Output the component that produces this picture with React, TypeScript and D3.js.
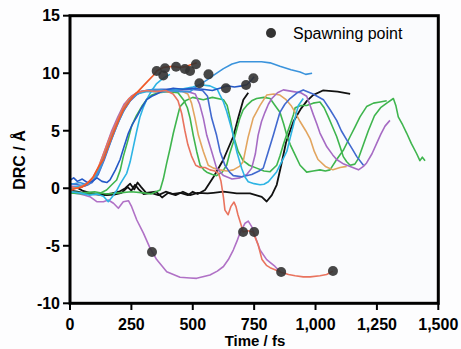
import React from 'react';
import * as d3 from 'd3';

const W = 461;
const H = 349;

const xTicks = [0, 250, 500, 750, 1000, 1250, 1500];
const yTicks = [-10, -5, 0, 5, 10, 15];

const orangeRed: [number, number][] = [[0,-0.2],[25,0.0],[50,0.1],[70,0.4],[95,1.0],[115,1.8],[136,2.5],[155,3.6],[177,4.8],[200,6.0],[217,6.8],[240,7.5],[258,8.0],[285,8.6],[312,9.2],[339,9.8],[353,10.2],[380,10.5],[421,10.6],[450,10.5],[475,10.6],[500,10.8],[516,10.9]];
const salmon: [number, number][] = [[0,0.1],[30,0.0],[60,0.3],[90,0.8],[115,1.8],[140,3.2],[165,4.6],[190,5.8],[215,7.0],[240,7.8],[270,8.3],[310,8.5],[350,8.4],[390,8.5],[420,8.2],[440,7.6],[455,6.5],[468,5.0],[480,3.8],[495,2.8],[512,2.0],[530,1.8],[550,1.8],[570,1.6],[590,1.5],[605,1.3],[615,0.6],[625,-0.8],[631,-1.9],[644,-2.3],[655,-1.6],[668,-1.2],[676,-1.6],[684,-2.3],[697,-3.2],[705,-3.8],[725,-3.7],[745,-3.8],[766,-4.9],[782,-6.2],[800,-6.7],[815,-6.9],[860,-7.3],[890,-7.5],[917,-7.6],[950,-7.7],[978,-7.7],[1018,-7.6],[1045,-7.5],[1071,-7.2]];
const purple: [number, number][] = [[0,0.2],[40,0.1],[70,0.3],[95,0.9],[120,2.0],[145,3.5],[170,5.0],[195,6.2],[220,7.3],[250,8.0],[280,8.4],[320,8.5],[380,8.4],[430,8.5],[480,8.4],[510,8.2],[528,7.3],[543,6.1],[557,4.6],[577,3.2],[597,1.75],[625,1.1],[660,0.8],[692,0.9],[720,1.2],[740,1.75],[755,3.0],[766,4.6],[780,5.8],[794,6.6],[808,7.3],[822,7.8],[845,8.3],[869,8.55],[910,8.4],[940,8.3],[964,8.0],[978,7.2],[991,6.4],[1005,5.6],[1018,4.8],[1046,3.6],[1070,2.9],[1086,2.5],[1115,2.1],[1141,1.9],[1175,1.6],[1195,1.9],[1208,2.2],[1230,3.0],[1249,3.9],[1266,4.7],[1283,5.4],[1303,5.9]];
const tan: [number, number][] = [[0,0.0],[40,0.1],[75,0.3],[100,1.0],[125,2.0],[150,3.5],[175,4.9],[200,6.0],[228,7.2],[258,8.0],[290,8.4],[340,8.5],[400,8.4],[450,8.5],[480,8.2],[495,7.4],[509,6.1],[523,4.6],[543,3.2],[563,2.0],[584,1.75],[610,1.6],[640,1.5],[665,1.6],[690,1.9],[705,2.3],[725,4.4],[746,6.1],[774,7.2],[801,8.1],[830,8.2],[855,8.1],[880,7.7],[900,7.2],[917,6.6],[937,5.8],[960,5.0],[978,4.3],[995,3.2],[1010,2.5],[1040,1.9],[1071,1.6],[1100,1.8],[1127,1.9]];
const blue: [number, number][] = [[0,0.4],[30,0.3],[60,0.2],[90,0.5],[115,1.2],[140,2.5],[165,4.0],[190,5.4],[215,6.6],[245,7.6],[275,8.2],[310,8.5],[370,8.6],[430,8.6],[490,8.6],[540,8.5],[560,8.0],[577,6.1],[597,4.6],[611,3.2],[631,2.0],[650,1.4],[665,1.1],[700,1.0],[740,1.2],[770,1.5],[787,1.75],[805,3.0],[828,4.6],[855,6.6],[875,7.3],[896,7.8],[925,8.3],[950,8.55],[990,8.2],[1032,7.7],[1060,6.8],[1086,5.9],[1105,5.0],[1127,4.2],[1150,3.4],[1168,2.75],[1195,2.0]];
const darkBlue: [number, number][] = [[0,0.7],[15,0.9],[30,0.6],[50,0.8],[70,0.5],[90,0.6],[110,0.9],[130,0.6],[150,0.5],[163,0.72],[185,1.6],[204,2.5],[220,3.6],[238,4.8],[255,5.6],[272,6.2],[292,7.0],[312,7.7],[333,8.0],[353,8.2],[380,8.5],[420,8.7],[460,8.6],[500,8.7],[540,8.6],[580,8.5],[610,8.7],[640,8.9],[670,8.8],[700,8.9],[720,9.0],[735,9.3],[750,9.7]];
const lightBlue: [number, number][] = [[0,0.3],[40,0.5],[70,0.3],[100,0.8],[125,1.8],[150,3.2],[175,4.6],[200,5.9],[225,7.0],[255,7.9],[290,8.4],[340,8.6],[400,8.5],[450,8.4],[489,8.4],[520,8.9],[557,9.4],[590,9.9],[625,10.4],[660,10.8],[692,11.0],[740,11.0],[780,11.0],[815,10.9],[855,10.6],[900,10.3],[937,10.1],[960,9.9],[986,10.0]];
const cyanA: [number, number][] = [[0,-0.3],[40,-0.4],[80,-0.6],[110,-0.5],[136,-0.7],[156,-1.17],[177,-0.6],[190,-0.2],[205,0.4],[231,1.3],[245,2.3],[258,3.6],[272,5.0],[285,6.2],[298,7.0],[312,7.7],[333,8.5],[353,9.1],[370,9.4],[390,9.7],[407,9.9]];
const cyanB: [number, number][] = [[0,0.0],[40,0.2],[80,0.5],[110,1.3],[135,2.6],[160,4.1],[185,5.5],[210,6.7],[240,7.7],[270,8.2],[310,8.4],[380,8.4],[450,8.6],[500,8.8],[530,9.0],[570,8.9],[600,8.6],[611,8.1],[625,7.5],[638,6.7],[658,5.2],[679,3.2],[699,1.74],[712,1.0],[726,0.57],[750,0.4],[774,0.3],[790,0.35],[808,0.57],[825,1.0],[842,1.44],[860,2.2],[883,3.2],[897,4.4],[910,5.5],[920,6.4],[930,7.2],[950,7.8]];
const greenA: [number, number][] = [[0,-0.4],[30,-0.45],[60,-0.5],[100,-0.5],[125,-0.4],[149,-0.15],[170,0.3],[190,0.72],[205,1.6],[217,2.75],[235,4.1],[251,5.4],[270,6.3],[292,7.1],[312,7.7],[333,8.1],[360,8.3],[400,8.4],[440,8.3],[465,7.6],[478,7.0],[489,6.1],[502,4.6],[516,3.2],[530,2.0],[545,1.6],[557,1.4],[580,1.2],[597,1.1],[620,1.4],[638,2.0],[650,3.0],[665,4.0],[680,5.2],[692,6.1],[705,6.8],[720,7.2],[740,7.6],[760,7.8],[790,7.9],[815,7.8],[835,7.2],[855,6.6],[870,5.6],[883,4.6],[897,3.8],[910,3.2],[937,2.0],[964,1.4],[990,1.5],[1018,1.6],[1040,1.5],[1059,1.6],[1086,2.5],[1113,3.3],[1141,4.5],[1160,5.3],[1181,6.2],[1208,7.1],[1236,7.4],[1263,7.5],[1290,7.6]];
const greenB: [number, number][] = [[0,-0.3],[50,-0.4],[100,-0.3],[150,-0.5],[200,-0.4],[250,-0.3],[300,-0.4],[330,-0.5],[350,-0.3],[367,-0.15],[380,0.8],[394,2.2],[408,3.5],[421,4.8],[435,6.0],[448,7.1],[470,7.6],[500,7.9],[543,7.7],[580,7.9],[625,7.7],[640,7.2],[652,6.1],[665,4.6],[685,3.2],[705,2.4],[730,2.0],[760,1.75],[790,1.5],[815,1.44],[842,2.0],[855,2.8],[869,3.8],[883,4.7],[896,5.5],[910,6.4],[917,7.0],[940,7.2],[964,7.2],[990,7.4],[1018,7.5],[1035,7.0],[1052,6.2],[1070,5.3],[1086,4.5],[1100,3.6],[1113,2.75],[1127,2.3],[1141,2.0],[1160,2.1],[1175,2.6],[1195,3.8],[1215,5.0],[1240,6.3],[1265,7.0],[1290,7.4],[1317,7.8],[1327,7.2],[1337,6.2],[1355,5.5],[1371,4.8],[1390,3.9],[1412,3.0],[1425,2.4],[1435,2.7],[1446,2.4]];
const purpleLow: [number, number][] = [[0,0.0],[12,-0.4],[40,-0.5],[60,-0.6],[81,-0.73],[109,-1.17],[136,-1.17],[156,-1.02],[177,-1.3],[197,-1.74],[217,-1.17],[238,-1.08],[251,-1.6],[272,-2.76],[299,-3.9],[326,-5.2],[353,-6.2],[394,-7.25],[448,-7.74],[489,-7.8],[516,-7.83],[570,-7.54],[600,-7.2],[625,-6.8],[645,-6.2],[665,-5.37],[680,-4.6],[692,-3.9],[713,-3.04],[726,-2.85],[740,-3.34],[754,-4.2],[774,-5.37],[801,-6.2],[835,-6.8],[855,-7.25]];
const black1: [number, number][] = [[0,-0.2],[30,-0.3],[60,-0.45],[90,-0.5],[120,-0.55],[150,-0.6],[180,-0.55],[210,-0.4],[235,0.1],[250,-0.2],[265,0.3],[280,-0.1],[300,-0.5],[330,-0.4],[360,-0.6],[390,-0.3],[420,-0.5],[450,-0.4],[480,-0.6],[500,-0.3],[520,-0.5],[550,-0.15],[585,1.0],[625,2.5],[665,4.5],[686,6.2],[706,7.7],[726,8.3]];
const black2: [number, number][] = [[0,-0.1],[25,0.1],[50,-0.2],[80,-0.4],[110,-0.5],[140,-0.55],[170,-0.45],[200,-0.3],[225,0.0],[245,0.4],[262,-0.1],[275,0.5],[290,0.1],[310,-0.4],[350,-0.3],[375,-0.8],[400,-0.4],[430,-0.6],[460,-0.3],[489,-0.6],[520,-0.4],[560,-0.45],[584,-0.4],[625,-0.3],[679,-0.45],[733,-0.45],[781,-0.75],[801,-1.15],[822,-0.6],[842,0.3],[860,2.0],[880,4.0],[910,5.8],[940,6.9],[965,7.6],[990,8.1],[1030,8.5],[1090,8.4],[1141,8.2]];

const spawnT = [353, 387, 380, 432, 468, 489, 513, 564, 527, 635, 717, 747, 334, 705, 750, 860, 1071];
const spawnV = [10.2, 10.43, 9.8, 10.57, 10.37, 10.2, 10.78, 9.9, 9.13, 8.7, 8.98, 9.57, -5.54, -3.8, -3.8, -7.28, -7.2];

const series: { data: [number, number][]; color: string; width: number }[] = [
  { data: black1, color: '#111111', width: 1.8 },
  { data: black2, color: '#111111', width: 1.8 },
  { data: purpleLow, color: '#b071c6', width: 1.6 },
  { data: greenB, color: '#3fb54e', width: 1.6 },
  { data: greenA, color: '#3fb54e', width: 1.6 },
  { data: tan, color: '#e2a55f', width: 1.6 },
  { data: purple, color: '#a66bc4', width: 1.6 },
  { data: blue, color: '#4169cf', width: 1.6 },
  { data: cyanB, color: '#2db4e4', width: 1.6 },
  { data: cyanA, color: '#2db4e4', width: 1.6 },
  { data: lightBlue, color: '#3a93dc', width: 1.6 },
  { data: darkBlue, color: '#2458c6', width: 1.6 },
  { data: salmon, color: '#e9735e', width: 1.6 },
  { data: orangeRed, color: '#f05a28', width: 1.7 },
];

export default function App() {
  const x = d3.scaleLinear().domain([0, 1500]).range([70, 438.3]);
  const y = d3.scaleLinear().domain([-10, 15]).range([303.3, 15.7]);
  const line = d3.line<[number, number]>().x(d => x(d[0])).y(d => y(d[1]));
  const fmt = d3.format(',');
  const font = 'Liberation Sans, Arial, Helvetica, sans-serif';
  return (
    <svg width={W} height={H} style={{ position: 'absolute', left: 0, top: 0, background: '#fdfdfe' }}>
      <rect x={70} y={15.7} width={368.3} height={287.6} fill="#fafbfd" />
      {series.map((s, i) => (
        <path key={i} d={line(s.data) || ''} fill="none" stroke={s.color} strokeWidth={s.width} strokeLinejoin="round" />
      ))}
      {spawnT.map((t, i) => (
        <circle key={i} cx={x(t)} cy={y(spawnV[i])} r={5} fill="#333" fillOpacity={0.9} />
      ))}
      <rect x={70} y={15.7} width={368.3} height={287.6} fill="none" stroke="#000" strokeWidth={3} />
      {yTicks.map(t => (
        <g key={t}>
          <line x1={63} x2={70} y1={y(t)} y2={y(t)} stroke="#000" strokeWidth={2} />
          <text x={60} y={y(t)} dy="0.36em" textAnchor="end" fontFamily={font} fontWeight="bold" fontSize={16}>{t}</text>
        </g>
      ))}
      {xTicks.map(t => (
        <g key={t}>
          <line x1={x(t)} x2={x(t)} y1={303.3} y2={310} stroke="#000" strokeWidth={2} />
          <text x={x(t)} y={330} textAnchor="middle" fontFamily={font} fontWeight="bold" fontSize={16}>{fmt(t)}</text>
        </g>
      ))}
      <text x={255} y={346} textAnchor="middle" fontFamily={font} fontWeight="bold" fontSize={15}>Time / fs</text>
      <text transform="translate(25,160) rotate(-90)" textAnchor="middle" fontFamily={font} fontWeight="bold" fontSize={16}>DRC / Å</text>
      <circle cx={271} cy={33} r={5} fill="#333" />
      <text x={293} y={39} fontFamily={font} fontSize={16}>Spawning point</text>
    </svg>
  );
}
